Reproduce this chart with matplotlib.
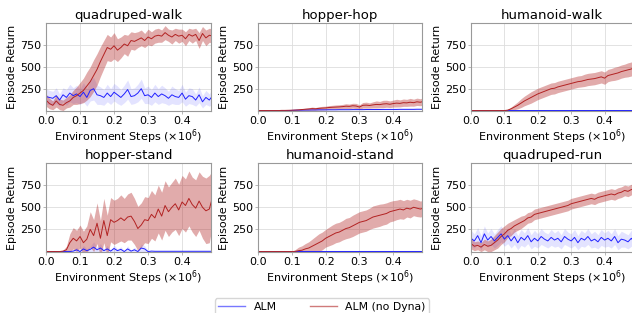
import numpy as np
import matplotlib
matplotlib.use("Agg")
import matplotlib.pyplot as plt
from matplotlib.lines import Line2D

# ----------------------------
# Data (50 checkpoints per run)
# ----------------------------
steps = np.linspace(0.0, 0.49, 50)  # environment steps (x1e6)

titles = ["quadruped-walk", "hopper-hop", "humanoid-walk",
          "hopper-stand", "humanoid-stand", "quadruped-run"]

# quadruped-walk
qw_alm = [160, 150, 140, 170, 120, 180, 150, 200, 170, 190, 160, 210, 150, 230, 250, 180, 170, 150, 200, 160,
          210, 180, 150, 190, 240, 160, 170, 200, 250, 170, 180, 150, 200, 160, 190, 170, 140, 180, 160, 150,
          200, 130, 170, 160, 120, 180, 100, 150, 120, 170]
qw_alm_sd = [90, 80, 80, 90, 70, 80, 90, 100, 90, 100, 90, 110, 100, 120, 130, 110, 100, 90, 100, 90,
             100, 100, 90, 100, 110, 90, 90, 100, 110, 90, 100, 90, 100, 90, 100, 90, 80, 100, 90, 80,
             100, 80, 90, 90, 70, 90, 70, 80, 70, 90]
qw_nd = [120, 80, 60, 110, 70, 60, 90, 110, 150, 170, 200, 230, 280, 330, 400, 470, 560, 640, 720, 700,
         740, 690, 720, 760, 740, 800, 790, 810, 830, 800, 840, 820, 850, 860, 850, 890, 860, 840, 870, 850,
         860, 820, 870, 850, 870, 800, 880, 830, 860, 850]
qw_nd_sd = [70, 60, 50, 70, 60, 60, 60, 70, 80, 100, 120, 140, 160, 170, 180, 180, 170, 160, 150, 140,
            150, 130, 120, 110, 120, 100, 100, 90, 90, 80, 90, 80, 80, 80, 70, 80, 70, 80, 70, 80,
            70, 80, 70, 80, 70, 90, 80, 90, 80, 80]

# hopper-hop
hh_alm = [0, 0, 0, 0, 0, 0, 0, 0, 0, 0, 2, 4, 5, 5, 6, 6, 7, 7, 8, 8,
          8, 9, 9, 9, 10, 10, 10, 10, 11, 11, 11, 11, 12, 12, 12, 12, 12, 13, 13, 13,
          13, 13, 14, 14, 14, 14, 14, 15, 15, 15]
hh_alm_sd = [0, 0, 0, 0, 0, 0, 0, 0, 0, 0, 1, 2, 2, 2, 2, 3, 3, 3, 3, 3,
             3, 3, 3, 3, 3, 3, 3, 3, 3, 3, 3, 3, 3, 3, 3, 3, 3, 3, 3, 3,
             3, 3, 3, 3, 3, 3, 3, 3, 3, 3]
hh_nd = [0, 0, 0, 0, 0, 0, 0, 2, 2, 3, 4, 6, 8, 12, 15, 18, 22, 20, 25, 28,
         30, 35, 38, 40, 42, 45, 50, 48, 55, 52, 40, 60, 62, 58, 65, 70, 68, 75, 78, 72,
         80, 85, 82, 90, 88, 95, 90, 100, 95, 105]
hh_nd_sd = [0, 0, 0, 0, 0, 0, 0, 2, 3, 4, 5, 6, 8, 10, 12, 14, 18, 15, 18, 20,
            20, 22, 22, 24, 24, 25, 28, 26, 28, 30, 26, 32, 34, 30, 35, 40, 36, 42, 40, 38,
            40, 44, 40, 42, 40, 44, 40, 42, 40, 42]

# humanoid-walk
hw_alm = [2] * 50
hw_alm_sd = [1] * 50
hw_nd = [0, 0, 0, 0, 0, 0, 0, 0, 0, 0, 0, 5, 20, 40, 60, 85, 110, 130, 150, 170,
         190, 205, 220, 235, 250, 255, 270, 280, 290, 300, 310, 320, 330, 335, 345, 355, 360, 365, 375, 385,
         370, 400, 410, 420, 430, 445, 455, 465, 475, 490]
hw_nd_sd = [0, 0, 0, 0, 0, 0, 0, 0, 0, 0, 2, 10, 20, 30, 40, 50, 55, 60, 65, 65,
            65, 65, 65, 65, 65, 65, 65, 65, 65, 65, 65, 65, 65, 65, 70, 70, 70, 70, 70, 70,
            70, 70, 70, 75, 75, 75, 75, 80, 80, 80]

# hopper-stand
hs_alm = [0, 0, 0, 0, 0, 0, 0, 0, 5, 20, 0, 30, 10, 25, 50, 20, 40, 10, 30, 5,
          35, 10, 25, 0, 30, 5, 20, 0, 40, 30, 0, 5, 3, 3, 3, 3, 3, 3, 3, 3,
          3, 3, 3, 3, 3, 3, 3, 3, 3, 3]
hs_alm_sd = [0, 0, 0, 0, 0, 0, 0, 0, 10, 30, 10, 40, 20, 35, 60, 30, 50, 20, 40, 10,
             40, 20, 30, 10, 35, 10, 30, 10, 45, 35, 5, 5, 3, 3, 3, 3, 3, 3, 3, 3,
             3, 3, 3, 3, 3, 3, 3, 3, 3, 3]
hs_nd = [0, 0, 0, 0, 0, 5, 20, 100, 150, 120, 170, 100, 140, 250, 180, 320, 150, 350, 180, 360,
         330, 350, 380, 350, 390, 400, 340, 260, 300, 360, 350, 420, 380, 480, 400, 520, 450, 500, 540, 470,
         560, 520, 600, 530, 490, 570, 500, 460, 480, 620]
hs_nd_sd = [0, 0, 0, 0, 0, 10, 40, 100, 120, 120, 130, 130, 150, 200, 180, 230, 200, 250, 230, 250,
            250, 250, 260, 250, 260, 270, 260, 250, 250, 260, 260, 270, 260, 270, 270, 280, 280, 280, 290, 290,
            300, 300, 310, 310, 320, 330, 350, 370, 380, 300]

# humanoid-stand
hst_alm = [3] * 50
hst_alm_sd = [0, 0, 0, 0, 0, 0, 0, 0, 0, 0, 5, 8, 10, 10, 10, 10, 10, 10, 10, 10,
              10, 10, 10, 10, 10, 10, 10, 10, 10, 10, 10, 10, 10, 10, 10, 10, 10, 10, 10, 10,
              10, 10, 10, 10, 10, 10, 10, 10, 10, 10]
hst_nd = [0, 0, 0, 0, 0, 0, 0, 0, 0, 0, 0, 2, 10, 15, 30, 40, 60, 80, 100, 120,
          150, 170, 190, 210, 220, 240, 260, 270, 290, 310, 330, 340, 350, 370, 390, 400, 410, 420, 430, 450,
          460, 470, 480, 470, 490, 480, 500, 490, 480, 490]
hst_nd_sd = [0, 0, 0, 0, 0, 0, 0, 0, 0, 0, 0, 20, 40, 50, 60, 70, 80, 90, 100, 100,
             100, 105, 110, 110, 110, 110, 115, 115, 120, 120, 120, 120, 120, 120, 125, 125, 125, 120, 120, 115,
             115, 110, 110, 105, 100, 100, 95, 95, 90, 90]

# quadruped-run
qr_alm = [150, 120, 180, 100, 200, 130, 170, 120, 160, 200, 140, 180, 120, 170, 100, 160, 130, 180, 110, 150,
          120, 170, 140, 120, 160, 130, 150, 110, 170, 140, 120, 160, 100, 150, 130, 170, 120, 140, 110, 160,
          130, 150, 120, 170, 100, 140, 130, 110, 150, 100]
qr_alm_sd = [90, 80, 90, 80, 90, 80, 90, 80, 90, 90, 80, 90, 80, 90, 80, 90, 80, 90, 80, 90,
             80, 90, 80, 80, 90, 80, 90, 80, 90, 80, 80, 90, 80, 90, 80, 90, 80, 90, 80, 90,
             80, 90, 80, 90, 80, 90, 80, 80, 90, 80]
qr_nd = [90, 60, 70, 50, 80, 60, 70, 100, 130, 170, 200, 240, 260, 290, 310, 330, 350, 380, 390, 420,
         430, 440, 450, 460, 470, 480, 490, 500, 510, 520, 540, 550, 560, 570, 580, 590, 600, 590, 610, 620,
         630, 640, 650, 640, 660, 670, 690, 680, 700, 710]
qr_nd_sd = [60, 50, 50, 50, 60, 60, 70, 80, 90, 90, 90, 80, 80, 70, 70, 70, 60, 60, 60, 60,
            60, 60, 60, 60, 60, 60, 60, 60, 60, 60, 60, 60, 60, 60, 60, 60, 60, 60, 60, 60,
            60, 60, 60, 60, 60, 60, 60, 60, 60, 60]

alm_runs = [(qw_alm, qw_alm_sd), (hh_alm, hh_alm_sd), (hw_alm, hw_alm_sd),
            (hs_alm, hs_alm_sd), (hst_alm, hst_alm_sd), (qr_alm, qr_alm_sd)]
nd_runs = [(qw_nd, qw_nd_sd), (hh_nd, hh_nd_sd), (hw_nd, hw_nd_sd),
           (hs_nd, hs_nd_sd), (hst_nd, hst_nd_sd), (qr_nd, qr_nd_sd)]

BLUE = "#1f1fff"
RED = "#b22222"

# ----------------------------
# Figure layout (pixel boxes measured from the reference)
# ----------------------------
W, H = 632, 313
fig = plt.figure(figsize=(W / 100, H / 100), dpi=100)
cols = [(46, 211), (258, 422), (471, 633)]
rows = [(23, 111), (163, 252)]

for i, title in enumerate(titles):
    r, c = divmod(i, 3)
    x0, x1 = cols[c]
    y0, y1 = rows[r]
    ax = fig.add_axes([x0 / W, 1 - y1 / H, (x1 - x0) / W, (y1 - y0) / H])

    for (mean, sd), col, a in [(alm_runs[i], BLUE, 0.12), (nd_runs[i], RED, 0.38)]:
        mean = np.array(mean, dtype=float)
        sd = np.array(sd, dtype=float)
        ax.fill_between(steps, mean - sd, mean + sd, color=col, alpha=a, linewidth=0)
        ax.plot(steps, mean, color=col, linewidth=0.7)

    ax.set_xlim(0, 0.485)
    ax.set_ylim(-5, 1000)
    ax.set_xticks([0.0, 0.1, 0.2, 0.3, 0.4])
    ax.set_yticks([250, 500, 750])
    ax.grid(True, color="#dddddd", linewidth=0.6)
    ax.set_axisbelow(True)
    for s in ax.spines.values():
        s.set_color("#999999")
        s.set_linewidth(0.8)
    ax.tick_params(labelsize=8, length=2, width=0.5, color="#999999", pad=1.5)
    ax.set_title(title, fontsize=9.5, pad=3)
    ax.set_xlabel(r"Environment Steps ($\times 10^6$)", fontsize=8, labelpad=1)
    ax.set_ylabel("Episode Return", fontsize=8, labelpad=2)

handles = [Line2D([], [], color=BLUE, alpha=0.6, linewidth=1),
           Line2D([], [], color=RED, alpha=0.6, linewidth=1)]
fig.legend(handles, ["ALM", "ALM (no Dyna)"], loc="upper center",
           bbox_to_anchor=(322 / W, 1 - 293 / H), ncol=2, fontsize=7.8,
           frameon=True, handlelength=2.5, columnspacing=3.0, borderpad=0.3)

fig.savefig("out.png", dpi=100)
